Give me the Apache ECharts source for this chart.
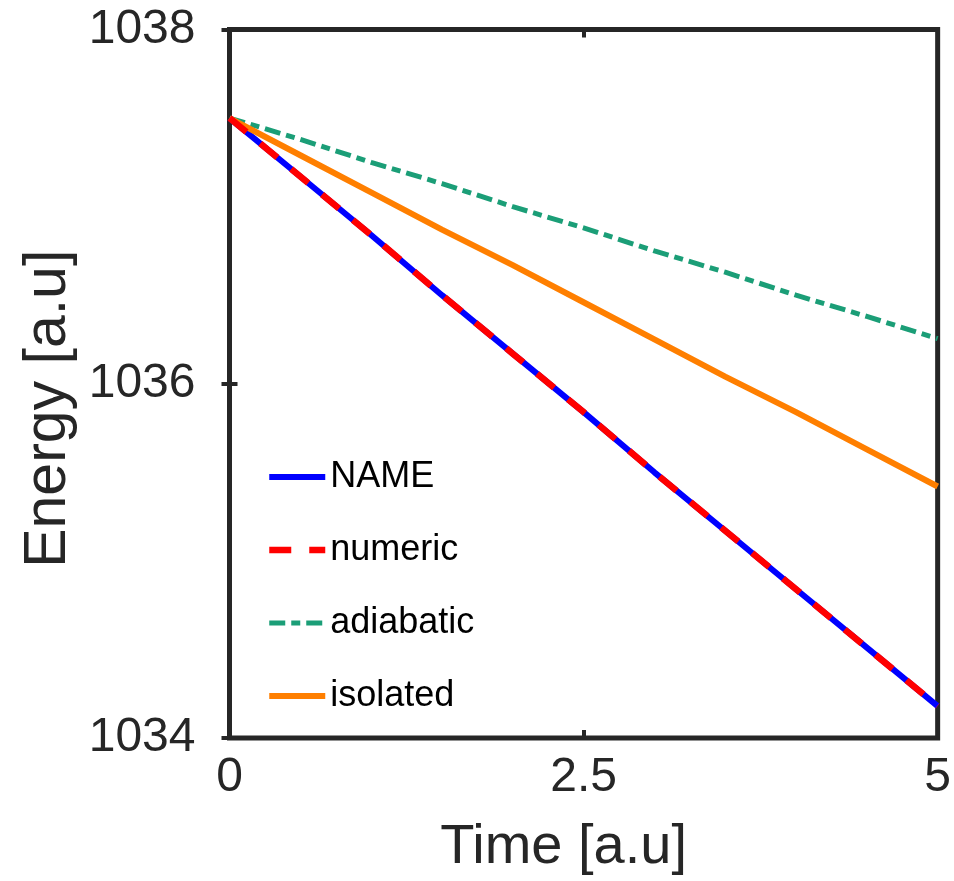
<!DOCTYPE html>
<html>
<head>
<meta charset="utf-8">
<script src="https://cdn.jsdelivr.net/npm/echarts@6/dist/echarts.min.js"></script>
<style>
html,body{margin:0;padding:0;background:#fff;}
#chart{width:954px;height:881px;}
</style>
</head>
<body>
<div id="chart"></div>
<script>
// Data
const times = [0, 0.5, 1, 1.5, 2, 2.5, 3, 3.5, 4, 4.5, 5];
const nameVals = [1037.50, 1037.17, 1036.84, 1036.50, 1036.17, 1035.84, 1035.50, 1035.17, 1034.84, 1034.51, 1034.18];
const numericVals = [1037.50, 1037.17, 1036.84, 1036.50, 1036.17, 1035.84, 1035.50, 1035.17, 1034.84, 1034.51, 1034.18];
const adiabaticVals = [1037.50, 1037.38, 1037.25, 1037.13, 1037.00, 1036.88, 1036.75, 1036.63, 1036.50, 1036.38, 1036.255];
const isolatedVals = [1037.50, 1037.29, 1037.08, 1036.87, 1036.67, 1036.46, 1036.25, 1036.04, 1035.84, 1035.63, 1035.42];
const seriesNames = ['NAME', 'numeric', 'adiabatic', 'isolated'];
const xTicks = [0, 2.5, 5];
const yTicks = [1034, 1036, 1038];

const pairs = vals => times.map((t, i) => [t, vals[i]]);
const font = "'Liberation Sans', Arial, sans-serif";
const axisColor = '#262626';

const chart = echarts.init(document.getElementById('chart'), null, {renderer: 'canvas'});
chart.setOption({
  backgroundColor: '#ffffff',
  animation: false,
  grid: {left: 229.5, right: 15, top: 29.5, bottom: 141.5, show: true,
         borderColor: axisColor, borderWidth: 5, backgroundColor: '#ffffff'},
  legend: {
    orient: 'vertical', left: 266, top: 457, padding: 0,
    itemWidth: 56, itemHeight: 14, itemGap: 33,
    data: seriesNames,
    itemStyle: {opacity: 0, borderWidth: 0},
    lineStyle: {width: 'inherit', type: 'inherit'},
    textStyle: {fontFamily: font, fontSize: 36, color: '#000', lineHeight: 40}
  },
  xAxis: [{
    type: 'value', min: xTicks[0], max: xTicks[xTicks.length - 1], interval: xTicks[1] - xTicks[0],
    name: 'Time [a.u]', nameLocation: 'middle', nameGap: 82,
    nameTextStyle: {fontFamily: font, fontSize: 56, color: axisColor, padding: [0, 40, 0, 0]},
    axisLine: {show: false},
    axisTick: {show: true, inside: true, length: 8, lineStyle: {color: axisColor, width: 4}},
    axisLabel: {fontFamily: font, fontSize: 48, color: axisColor, margin: 16,
                formatter: v => String(v)},
    splitLine: {show: false}
  }, {
    type: 'value', position: 'top', min: xTicks[0], max: xTicks[xTicks.length - 1], interval: xTicks[1] - xTicks[0],
    axisLine: {show: false},
    axisTick: {show: true, inside: true, length: 8, lineStyle: {color: axisColor, width: 4}},
    axisLabel: {show: false}, splitLine: {show: false}
  }],
  yAxis: [{
    type: 'value', min: yTicks[0], max: yTicks[yTicks.length - 1], interval: yTicks[1] - yTicks[0],
    name: 'Energy [a.u]', nameLocation: 'middle', nameGap: 136,
    nameTextStyle: {fontFamily: font, fontSize: 59, color: axisColor, padding: [0, 50, 0, 0]},
    axisLine: {show: false},
    axisTick: {show: true, inside: true, length: 8, lineStyle: {color: axisColor, width: 4}},
    axisLabel: {fontFamily: font, fontSize: 48, color: axisColor, margin: 34,
                formatter: v => String(v)},
    splitLine: {show: false}
  }, {
    type: 'value', position: 'right', min: yTicks[0], max: yTicks[yTicks.length - 1], interval: yTicks[1] - yTicks[0],
    axisLine: {show: false},
    axisTick: {show: true, inside: true, length: 8, lineStyle: {color: axisColor, width: 4}},
    axisLabel: {show: false}, splitLine: {show: false}
  }],
  series: [
    {name: seriesNames[0], type: 'line', data: pairs(nameVals), symbol: 'none', z: 3,
     lineStyle: {color: '#0000ff', width: 6}, itemStyle: {color: '#0000ff'}},
    {name: seriesNames[2], type: 'line', data: pairs(adiabaticVals), symbol: 'none', z: 3,
     lineStyle: {color: '#1b9e77', width: 5, type: [16, 6, 9, 6]}, itemStyle: {color: '#1b9e77'}},
    {name: seriesNames[3], type: 'line', data: pairs(isolatedVals), symbol: 'none', z: 3,
     lineStyle: {color: '#ff7f00', width: 6}, itemStyle: {color: '#ff7f00'}},
    {name: seriesNames[1], type: 'line', data: pairs(numericVals), symbol: 'none', z: 3, zlevel: 1,
     lineStyle: {color: '#ff0000', width: 6.5, type: [22, 18]}, itemStyle: {color: '#ff0000'}}
  ]
});
</script>
</body>
</html>
